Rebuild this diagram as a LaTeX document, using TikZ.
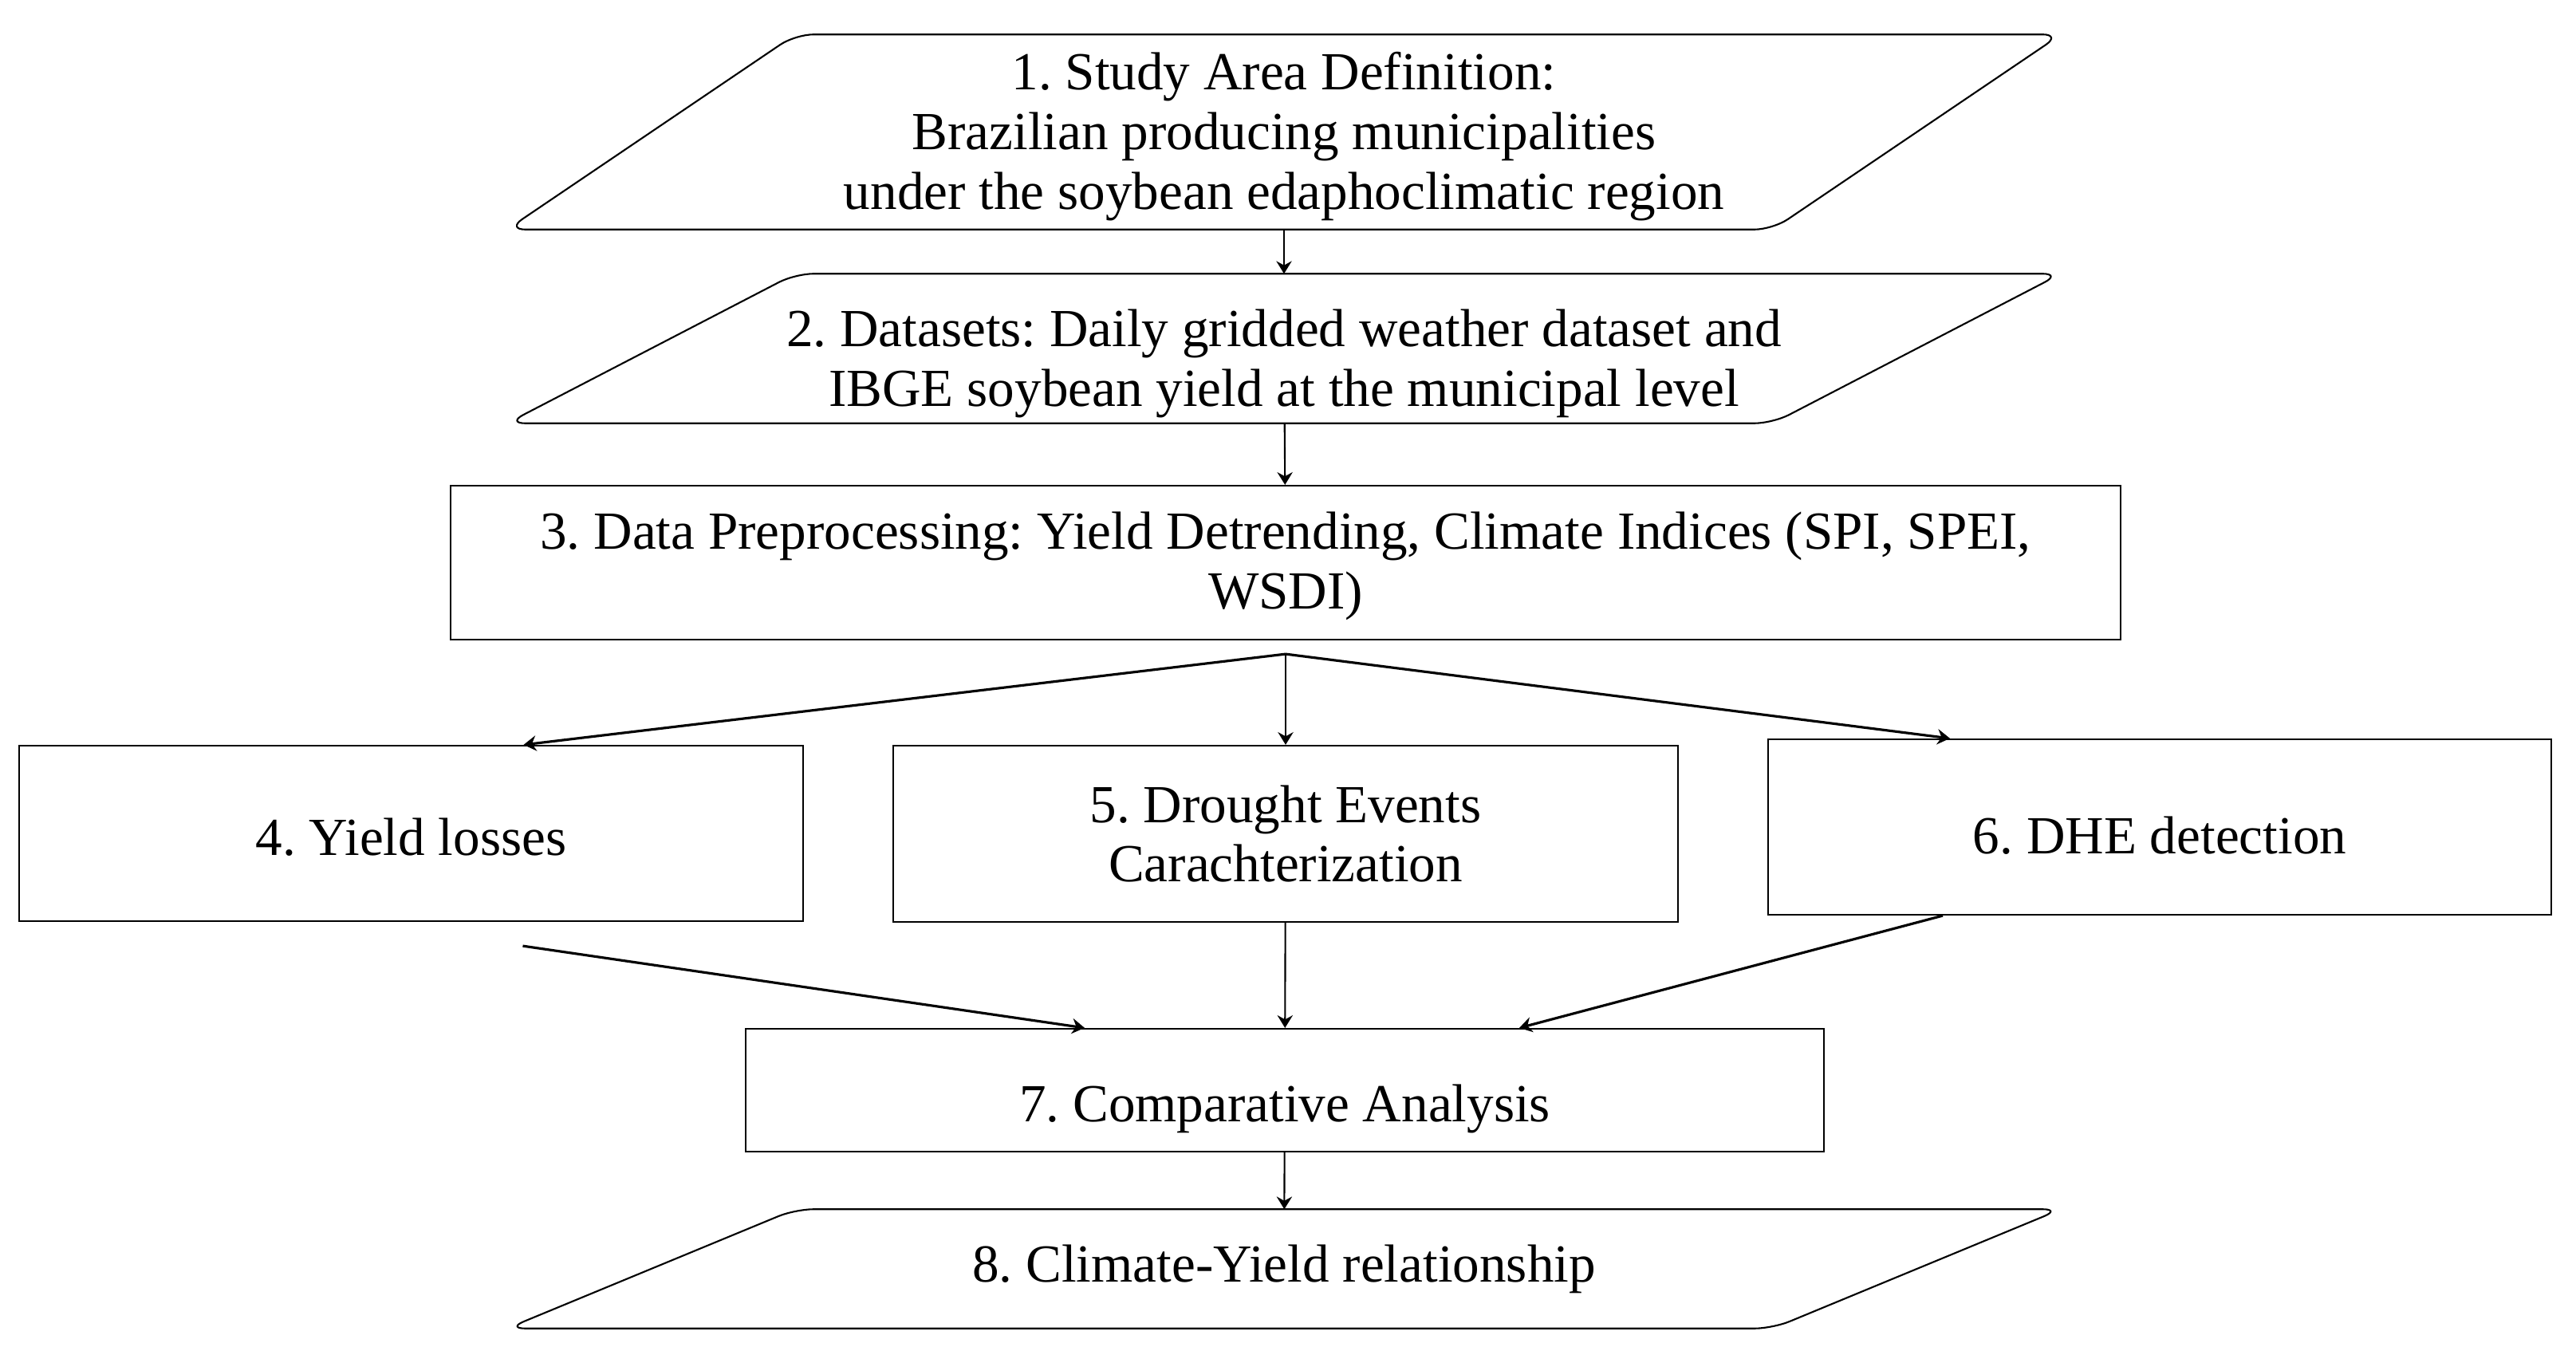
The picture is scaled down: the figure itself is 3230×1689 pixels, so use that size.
\documentclass[tikz,border=0pt]{standalone}
\usepackage{fontspec}
\setmainfont{Liberation Serif}
\usetikzlibrary{positioning}
\usetikzlibrary{calc}
\usetikzlibrary{arrows.meta}
\frenchspacing

\begin{document}
\begin{tikzpicture}[x = 0.01cm, y = -0.01cm,
	every node/.style = {font = \fontsize{19.1}{21.3}\selectfont, inner sep = 0pt},
	stepbox/.style = {draw, line width = 0.6pt},
	para/.style = {draw, line width = 0.6pt, rounded corners = 0.23cm},
	flow/.style = {draw, line width = 0.6pt, -{Stealth[length = 4.5pt, width = 5.5pt, inset = 1.5pt]}},
	flowd/.style = {flow, line width = 0.9pt}]
	\useasboundingbox (0, 0) rectangle (3230, 1689);
	% parallelogram inputs / outputs
	\node [align = center, minimum width = 19.46cm, minimum height = 2.43cm] (area) at (1610, 165.5) {\rule{0pt}{16.6pt}1. Study Area Definition:\\ Brazilian producing municipalities\\ under the soybean edaphoclimatic region};
	\draw [para] (area.south west) -- ++(1587, 0) -- (area.north east) -- ++(-1587, 0) -- cycle;
	\node [align = center, minimum width = 19.46cm, minimum height = 1.86cm] (data) at (1610, 437) {\rule{0pt}{24pt}2. Datasets: Daily gridded weather dataset and\\ IBGE soybean yield at the municipal level};
	\draw [para] (data.south west) -- ++(1587, 0) -- (data.north east) -- ++(-1587, 0) -- cycle;
	% processing boxes
	\node [stepbox, align = center, minimum width = 20.92cm, minimum height = 1.93cm] (prep) at (1612, 705.5) {\rule{0pt}{15.8pt}3. Data Preprocessing: Yield Detrending, Climate Indices (SPI, SPEI,\\ WSDI)};
	\node [stepbox, minimum width = 9.83cm, minimum height = 2.2cm, text height = 15.4pt, text depth = 0pt] (loss) at (515.5, 1045) {4. Yield losses};
	\node [stepbox, align = center, minimum width = 9.83cm, minimum height = 2.21cm] (drought) at (1612, 1045.5) {5. Drought Events\\ Carachterization};
	\node [stepbox, minimum width = 9.82cm, minimum height = 2.2cm, text height = 18.8pt, text depth = 0pt] (dhe) at (2708, 1037) {6. DHE detection};
	\node [stepbox, minimum width = 13.51cm, minimum height = 1.54cm, text height = 22.2pt, text depth = 0pt] (comp) at (1611, 1367) {7. Comparative Analysis};
	\node [minimum width = 19.46cm, minimum height = 1.48cm] (rel) at (1610, 1591) {8. Climate-Yield relationship};
	\draw [para] (rel.south west) -- ++(1587, 0) -- (rel.north east) -- ++(-1587, 0) -- cycle;
	% connectors
	\coordinate (split) at ($(prep.south) + (0, 17)$);
	\draw [flow] (area) -- (data);
	\draw [flow] (data) -- (prep);
	\draw [flowd] (split) -- ($(loss.north) + (141, 0)$);
	\draw [flow] (split) -- (drought);
	\draw [flowd] (split) -- ($(dhe.north) + (-263, 0)$);
	\draw [flowd] ($(loss.south) + (140, 30)$) -- ($(comp.north) + (-251, 0)$);
	\draw [flow] (drought) -- (comp);
	\draw [flowd] ($(dhe.south) + (-272, 0)$) -- ($(comp.north) + (294, 0)$);
	\draw [flow] (comp) -- (rel);
\end{tikzpicture}
\end{document}
